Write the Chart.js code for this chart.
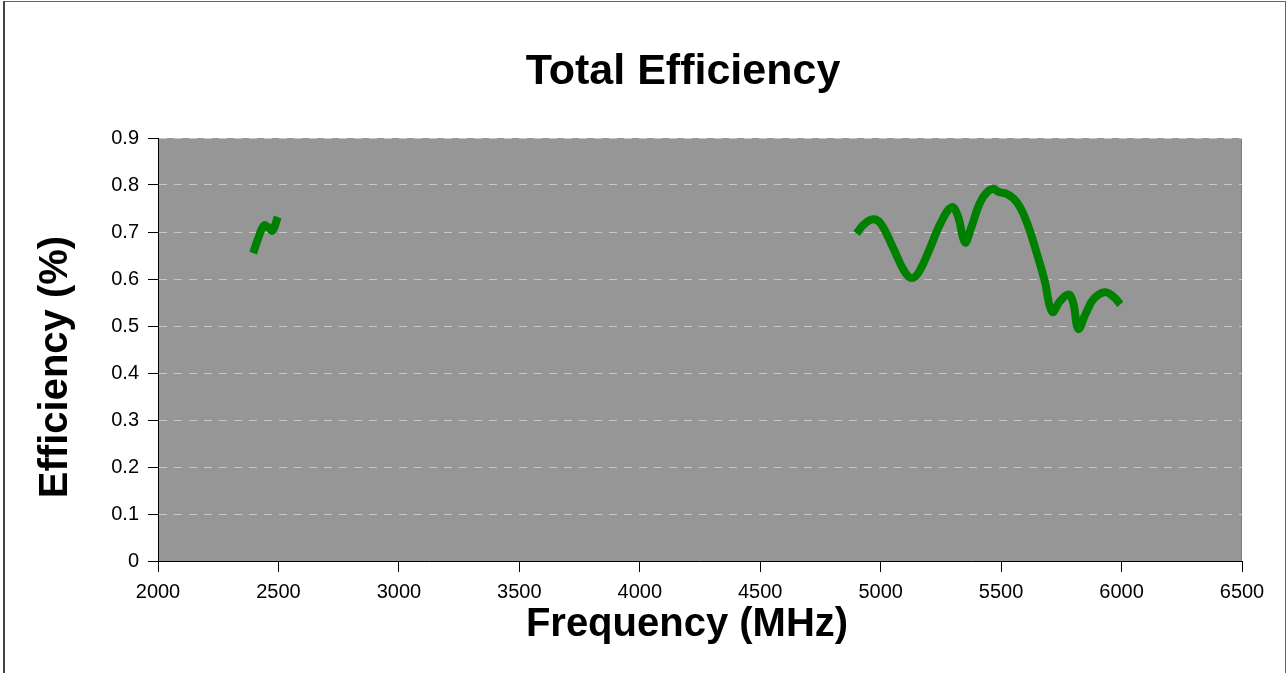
<!DOCTYPE html>
<html>
<head>
<meta charset="utf-8">
<script src="https://cdn.jsdelivr.net/npm/chart.js@4/dist/chart.umd.min.js"></script>
<style>
  html, body { margin: 0; padding: 0; background: #ffffff; overflow: hidden; }
  #frame { position: absolute; left: 3px; top: 1px; width: 1280px; height: 720px;
           border-top: 1px solid #666; border-left: 2px solid #444; border-right: 1px solid #666; }
  #wrap { position: absolute; left: 0; top: 0; width: 1286px; height: 673px; }
</style>
</head>
<body>
<div id="frame"></div>
<div id="wrap"><canvas id="c" width="1286" height="673"></canvas></div>
<script>
const chartTitle = "Total Efficiency";
const xTitle = "Frequency (MHz)";
const yTitle = "Efficiency (%)";

const xTickLabels = ["2000","2500","3000","3500","4000","4500","5000","5500","6000","6500"];
const yTickLabels = ["0","0.1","0.2","0.3","0.4","0.5","0.6","0.7","0.8","0.9"];

// 2.4 GHz band
const lowFreq = [2395, 2415, 2440, 2458, 2475, 2497];
const lowEff  = [0.655, 0.685, 0.714, 0.710, 0.703, 0.732];

// 5 GHz band
const highFreq = [4900, 4930, 4968, 5000, 5050, 5100, 5130, 5160, 5200, 5250, 5295, 5320, 5350, 5375, 5410, 5440, 5468, 5490, 5520, 5550, 5580, 5610, 5645, 5680, 5712, 5745, 5780, 5800, 5820, 5850, 5885, 5930, 5965, 5995];
const highEff  = [0.697, 0.716, 0.727, 0.718, 0.668, 0.615, 0.602, 0.616, 0.660, 0.720, 0.753, 0.735, 0.678, 0.708, 0.760, 0.784, 0.792, 0.785, 0.782, 0.772, 0.752, 0.716, 0.660, 0.598, 0.530, 0.553, 0.567, 0.548, 0.494, 0.525, 0.558, 0.572, 0.563, 0.546];

function pts(xs, ys) { return xs.map((x, i) => ({x: x, y: ys[i]})); }

const FONT = "'Liberation Sans', Arial, sans-serif";

const plotBg = {
  id: 'plotBg',
  beforeDraw(chart) {
    const {ctx, chartArea: a} = chart;
    ctx.save();
    ctx.fillStyle = '#969696';
    ctx.fillRect(a.left, a.top, a.right - a.left, a.bottom - a.top);
    ctx.strokeStyle = '#808080';
    ctx.lineWidth = 1;
    ctx.beginPath();
    ctx.moveTo(a.right - 0.5, a.top);
    ctx.lineTo(a.right - 0.5, a.bottom);
    ctx.stroke();
    ctx.restore();
  }
};

// Chart title and axis titles, placed like the original spreadsheet chart
const titles = {
  id: 'titles',
  afterDraw(chart) {
    const ctx = chart.ctx;
    ctx.save();
    ctx.fillStyle = '#000';
    ctx.textAlign = 'center';
    ctx.textBaseline = 'middle';
    ctx.font = "bold 43px " + FONT;
    ctx.fillText(chartTitle, 683, 72);
    ctx.font = "bold 40px " + FONT;
    ctx.fillText(xTitle, 687, 625);
    ctx.translate(56, 367);
    ctx.rotate(-Math.PI / 2);
    ctx.font = "bold 40px " + FONT;
    ctx.fillText(yTitle, 0, 0);
    ctx.restore();
  }
};

new Chart(document.getElementById('c'), {
  type: 'line',
  data: {
    datasets: [
      { data: pts(lowFreq, lowEff), borderColor: '#008000', borderWidth: 8, tension: 0.4, pointRadius: 0, fill: false },
      { data: pts(highFreq, highEff), borderColor: '#008000', borderWidth: 8, tension: 0.4, pointRadius: 0, fill: false }
    ]
  },
  options: {
    responsive: false,
    animation: false,
    events: [],
    layout: { padding: { left: 0, right: 44, top: 138, bottom: 0 } },
    plugins: {
      legend: { display: false },
      tooltip: { enabled: false },
      title: { display: false }
    },
    scales: {
      x: {
        type: 'linear', min: 2000, max: 6500,
        afterBuildTicks(scale) { scale.ticks = xTickLabels.map(v => ({ value: Number(v) })); },
        afterFit(scale) { scale.height = 112; },
        ticks: {
          color: '#000', font: { family: FONT, size: 20 }, padding: 8, maxRotation: 0, autoSkip: false,
          callback(v, i) { return xTickLabels[i]; }
        },
        grid: { drawOnChartArea: false, drawTicks: true, tickLength: 11, tickColor: '#000' },
        border: { display: true, color: '#000', width: 1 }
      },
      y: {
        type: 'linear', min: 0, max: 0.9,
        afterBuildTicks(scale) { scale.ticks = yTickLabels.map(v => ({ value: Number(v) })); },
        afterFit(scale) { scale.width = 158; },
        ticks: {
          color: '#000', font: { family: FONT, size: 20 }, padding: 9, autoSkip: false,
          callback(v, i) { return yTickLabels[i]; }
        },
        grid: { display: true, drawOnChartArea: true, drawTicks: true, tickLength: 10, tickColor: '#000',
                color: '#c8c8c8', lineWidth: 1, tickBorderDash: [] },
        border: { display: true, color: '#000', width: 1, dash: [8, 7] }
      }
    }
  },
  plugins: [plotBg, titles]
});
</script>
</body>
</html>
